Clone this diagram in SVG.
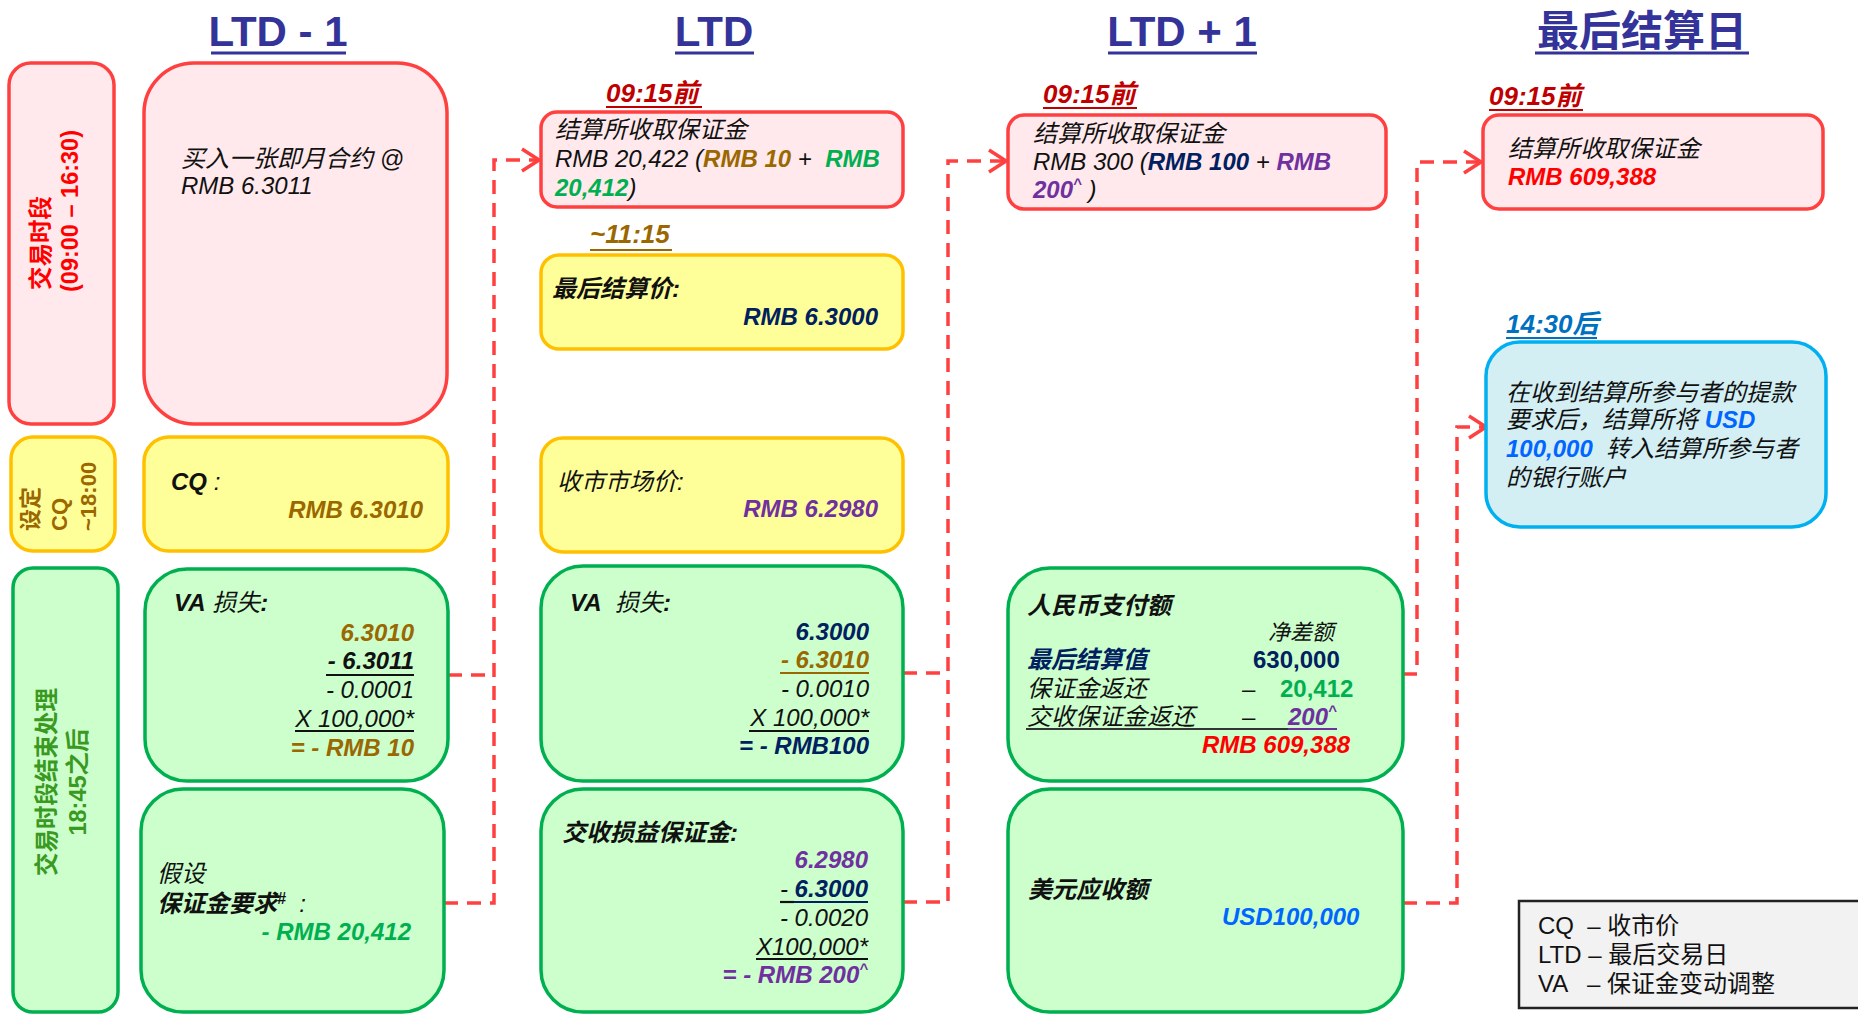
<svg xmlns="http://www.w3.org/2000/svg" width="1858" height="1016" viewBox="0 0 1858 1016">
<style>
text{font-family:"Liberation Sans","Noto Sans CJK SC",sans-serif;font-size:24px;fill:#111}
.i{font-style:italic}
.b{font-weight:bold}
.ttl{font-size:42px;font-weight:bold;fill:#333399}
.hd{font-size:26px;font-weight:bold;font-style:italic}
.rot{font-size:23.5px;font-weight:bold}
.red{fill:#FFE9EC;stroke:#FF4040;stroke-width:3.5}
.yel{fill:#FFFF99;stroke:#FFC000;stroke-width:3.5}
.grn{fill:#CCFFCC;stroke:#00B050;stroke-width:3.5}
.cyn{fill:#D3EFF4;stroke:#00B0F0;stroke-width:3.5}
.gold{fill:#9A6700}
.navy{fill:#002060}
.pur{fill:#7030A0}
.gr{fill:#00B050}
.rd{fill:#FF0000}
.dr{fill:#C00000}
.bl{fill:#0066FF}
.ul{stroke-width:2.2}
.con{fill:none;stroke:#FF4040;stroke-width:3.5;stroke-dasharray:14 9}
</style>
<defs>
<marker id="ah" viewBox="0 0 20 26" refX="19" refY="13" markerWidth="20" markerHeight="26" markerUnits="userSpaceOnUse" orient="auto">
<path d="M2,2 L19,13 L2,24" fill="none" stroke="#FF4040" stroke-width="3.5"/>
</marker>
</defs>

<g id="titles">
<text class="ttl" x="278" y="46" text-anchor="middle">LTD - 1</text>
<line x1="211" y1="53" x2="346" y2="53" stroke="#333399" stroke-width="3"/>
<text class="ttl" x="714" y="46" text-anchor="middle">LTD</text>
<line x1="675" y1="53" x2="754" y2="53" stroke="#333399" stroke-width="3"/>
<text class="ttl" x="1182" y="46" text-anchor="middle">LTD + 1</text>
<line x1="1108" y1="53" x2="1257" y2="53" stroke="#333399" stroke-width="3"/>
<text class="ttl" x="1642" y="46" text-anchor="middle">最后结算日</text>
<line x1="1535" y1="53" x2="1749" y2="53" stroke="#333399" stroke-width="3"/>
</g>

<g id="connectors">
<path class="con" d="M448,675 H494"/>
<path class="con" d="M444,903 H494 V160 H539" marker-end="url(#ah)"/>
<path class="con" d="M903,673 H948"/>
<path class="con" d="M903,902 H948 V161 H1006" marker-end="url(#ah)"/>
<path class="con" d="M1403,674 H1417 V162 H1481" marker-end="url(#ah)"/>
<path class="con" d="M1403,903 H1457 V427 H1486" marker-end="url(#ah)"/>
</g>

<g id="lbl-trading">
<rect class="red" x="9" y="63" width="105" height="361" rx="22"/>
<text class="rot rd" x="49" y="290" transform="rotate(-90 49 290)">交易时段</text>
<text class="rot rd" x="78" y="292" transform="rotate(-90 78 292)">(09:00 – 16:30)</text>
</g>

<g id="ltd1-buy">
<rect class="red" x="144" y="63" width="303" height="361" rx="50"/>
<text class="i" x="181" y="167">买入一张即月合约 @</text>
<text class="i" x="181" y="194">RMB 6.3011</text>
</g>

<g id="lbl-cq">
<rect class="yel" x="11" y="437" width="104" height="114" rx="22"/>
<text class="b gold" style="font-size:22px" x="38" y="531" transform="rotate(-90 38 531)">设定</text>
<text class="b gold" style="font-size:22px" x="67" y="531" transform="rotate(-90 67 531)">CQ</text>
<text class="b gold" style="font-size:22px" x="96" y="531" transform="rotate(-90 96 531)">~18:00</text>
</g>

<g id="ltd1-cq">
<rect class="yel" x="144" y="437" width="304" height="114" rx="25"/>
<text class="i" x="171" y="490"><tspan class="b">CQ</tspan> :</text>
<text class="b i gold" x="423" y="518" text-anchor="end">RMB 6.3010</text>
</g>

<g id="lbl-eod">
<rect class="grn" x="13" y="568" width="105" height="444" rx="20"/>
<text class="rot" style="fill:#3A9A1F" x="55" y="782" text-anchor="middle" transform="rotate(-90 55 782)">交易时段结束处理</text>
<text class="rot" style="fill:#3A9A1F" x="86" y="782" text-anchor="middle" transform="rotate(-90 86 782)">18:45之后</text>
</g>

<g id="ltd1-va">
<rect class="grn" x="145" y="569" width="303" height="212" rx="42"/>
<text class="i" x="174" y="611"><tspan class="b">VA</tspan> 损失<tspan class="b">:</tspan></text>
<text class="b i gold" x="414" y="641" text-anchor="end">6.3010</text>
<text class="b i" x="414" y="669" text-anchor="end">- 6.3011</text>
<line class="ul" x1="326" y1="675" x2="414" y2="675" stroke="#111"/>
<text class="i" x="414" y="698" text-anchor="end">- 0.0001</text>
<text class="i" x="414" y="727" text-anchor="end">X 100,000*</text>
<line class="ul" x1="295" y1="731" x2="414" y2="731" stroke="#111"/>
<text class="b i gold" x="414" y="756" text-anchor="end">= - RMB 10</text>
</g>

<g id="ltd1-margin">
<rect class="grn" x="141" y="789" width="303" height="223" rx="42"/>
<text class="i" x="157" y="882">假设</text>
<text class="i" x="157" y="912" xml:space="preserve"><tspan class="b">保证金要求</tspan><tspan class="b" style="font-size:16px" dy="-8">#</tspan><tspan dy="8">  :</tspan></text>
<text class="b i gr" x="411" y="940" text-anchor="end">- RMB 20,412</text>
</g>

<g id="ltd-collect">
<text class="hd dr" x="606" y="102">09:15前</text>
<line x1="606" y1="107" x2="702" y2="107" stroke="#C00000" stroke-width="2"/>
<rect class="red" x="541" y="112" width="362" height="95" rx="16"/>
<text class="i" x="555" y="138">结算所收取保证金</text>
<text class="i" x="555" y="167" xml:space="preserve">RMB 20,422 (<tspan class="b gold">RMB 10</tspan> +  <tspan class="b gr">RMB</tspan></text>
<text class="i" x="555" y="196"><tspan class="b gr">20,412</tspan>)</text>
</g>

<g id="ltd-fsp">
<text class="hd gold" x="590" y="243">~11:15</text>
<line x1="590" y1="250" x2="672" y2="250" stroke="#9A6700" stroke-width="2"/>
<rect class="yel" x="541" y="255" width="362" height="94" rx="18"/>
<text class="b i" x="552" y="297">最后结算价:</text>
<text class="b i navy" x="878" y="325" text-anchor="end">RMB 6.3000</text>
</g>

<g id="ltd-close">
<rect class="yel" x="541" y="438" width="362" height="114" rx="22"/>
<text class="i" x="557" y="490">收市市场价:</text>
<text class="b i pur" x="878" y="517" text-anchor="end">RMB 6.2980</text>
</g>

<g id="ltd-va">
<rect class="grn" x="541" y="566" width="362" height="215" rx="42"/>
<text class="i" x="570" y="611" xml:space="preserve"><tspan class="b">VA</tspan>  损失<tspan class="b">:</tspan></text>
<text class="b i navy" x="869" y="640" text-anchor="end">6.3000</text>
<text class="b i gold" x="869" y="668" text-anchor="end">- 6.3010</text>
<line class="ul" x1="780" y1="673" x2="869" y2="673" stroke="#9A6700"/>
<text class="i" x="869" y="697" text-anchor="end">- 0.0010</text>
<text class="i" x="869" y="726" text-anchor="end">X 100,000*</text>
<line class="ul" x1="749" y1="731" x2="869" y2="731" stroke="#111"/>
<text class="b i navy" x="869" y="754" text-anchor="end">= - RMB100</text>
</g>

<g id="ltd-delivery">
<rect class="grn" x="541" y="789" width="362" height="223" rx="42"/>
<text class="b i" x="562" y="841">交收损益保证金:</text>
<text class="b i pur" x="868" y="868" text-anchor="end">6.2980</text>
<text class="b i navy" x="868" y="897" text-anchor="end" xml:space="preserve"><tspan style="fill:#111;font-weight:normal">- </tspan>6.3000</text>
<line class="ul" x1="780" y1="902" x2="794" y2="902" stroke="#111"/>
<line class="ul" x1="794" y1="902" x2="868" y2="902" stroke="#002060"/>
<text class="i" x="868" y="926" text-anchor="end">- 0.0020</text>
<text class="i" x="868" y="955" text-anchor="end">X100,000*</text>
<line class="ul" x1="756" y1="959" x2="868" y2="959" stroke="#111"/>
<text class="b i pur" x="868" y="983" text-anchor="end">= - RMB 200<tspan style="font-size:15px" dy="-9">^</tspan></text>
</g>

<g id="ltd1p-collect">
<text class="hd dr" x="1043" y="103">09:15前</text>
<line x1="1043" y1="108" x2="1137" y2="108" stroke="#C00000" stroke-width="2"/>
<rect class="red" x="1008" y="115" width="378" height="94" rx="16"/>
<text class="i" x="1033" y="142">结算所收取保证金</text>
<text class="i" x="1033" y="170" xml:space="preserve">RMB 300 (<tspan class="b navy">RMB 100</tspan> + <tspan class="b pur">RMB</tspan></text>
<text class="i" x="1033" y="198" xml:space="preserve"><tspan class="b pur">200</tspan><tspan class="b pur" style="font-size:15px" dy="-9">^</tspan><tspan dy="9"> )</tspan></text>
</g>

<g id="ltd1p-rmb">
<rect class="grn" x="1008" y="568" width="395" height="213" rx="42"/>
<text class="b i" x="1027" y="614">人民币支付额</text>
<text class="i" style="font-size:22px" x="1268" y="640">净差额</text>
<text class="b i navy" x="1027" y="668">最后结算值</text>
<text class="b navy" x="1253" y="668">630,000</text>
<text class="i" x="1027" y="697">保证金返还</text>
<text x="1242" y="697">–</text>
<text class="b gr" x="1280" y="697">20,412</text>
<text class="i" x="1027" y="725">交收保证金返还</text>
<text x="1242" y="725">–</text>
<text class="b i pur" x="1288" y="725">200<tspan style="font-size:15px" dy="-9">^</tspan></text>
<line class="ul" x1="1026" y1="729" x2="1288" y2="729" stroke="#333"/>
<line class="ul" x1="1288" y1="729" x2="1337" y2="729" stroke="#7030A0"/>
<text class="b i rd" x="1202" y="753">RMB 609,388</text>
</g>

<g id="ltd1p-usd">
<rect class="grn" x="1008" y="789" width="395" height="223" rx="42"/>
<text class="b i" x="1028" y="898">美元应收额</text>
<text class="b i bl" x="1222" y="925">USD100,000</text>
</g>

<g id="fsd-collect">
<text class="hd dr" x="1489" y="105">09:15前</text>
<line x1="1489" y1="110" x2="1583" y2="110" stroke="#C00000" stroke-width="2"/>
<rect class="red" x="1483" y="115" width="340" height="94" rx="16"/>
<text class="i" x="1508" y="157">结算所收取保证金</text>
<text class="b i rd" x="1508" y="185">RMB 609,388</text>
</g>

<g id="fsd-transfer">
<text class="hd" style="fill:#0070C0" x="1506" y="333">14:30后</text>
<line x1="1506" y1="338" x2="1597" y2="338" stroke="#0070C0" stroke-width="2"/>
<rect class="cyn" x="1486" y="342" width="340" height="185" rx="34"/>
<text class="i" x="1506" y="401">在收到结算所参与者的提款</text>
<text class="i" x="1506" y="428" xml:space="preserve">要求后，结算所将 <tspan class="b bl">USD</tspan></text>
<text class="i" x="1506" y="457" xml:space="preserve"><tspan class="b bl">100,000</tspan>  转入结算所参与者</text>
<text class="i" x="1506" y="486">的银行账户</text>
</g>

<g id="legend">
<rect x="1519" y="901" width="350" height="107" fill="#F2F2F2" stroke="#222" stroke-width="2.5"/>
<text x="1538" y="934" xml:space="preserve">CQ  – 收市价</text>
<text x="1538" y="963" xml:space="preserve">LTD – 最后交易日</text>
<text x="1538" y="992" xml:space="preserve">VA   – 保证金变动调整</text>
</g>
</svg>
